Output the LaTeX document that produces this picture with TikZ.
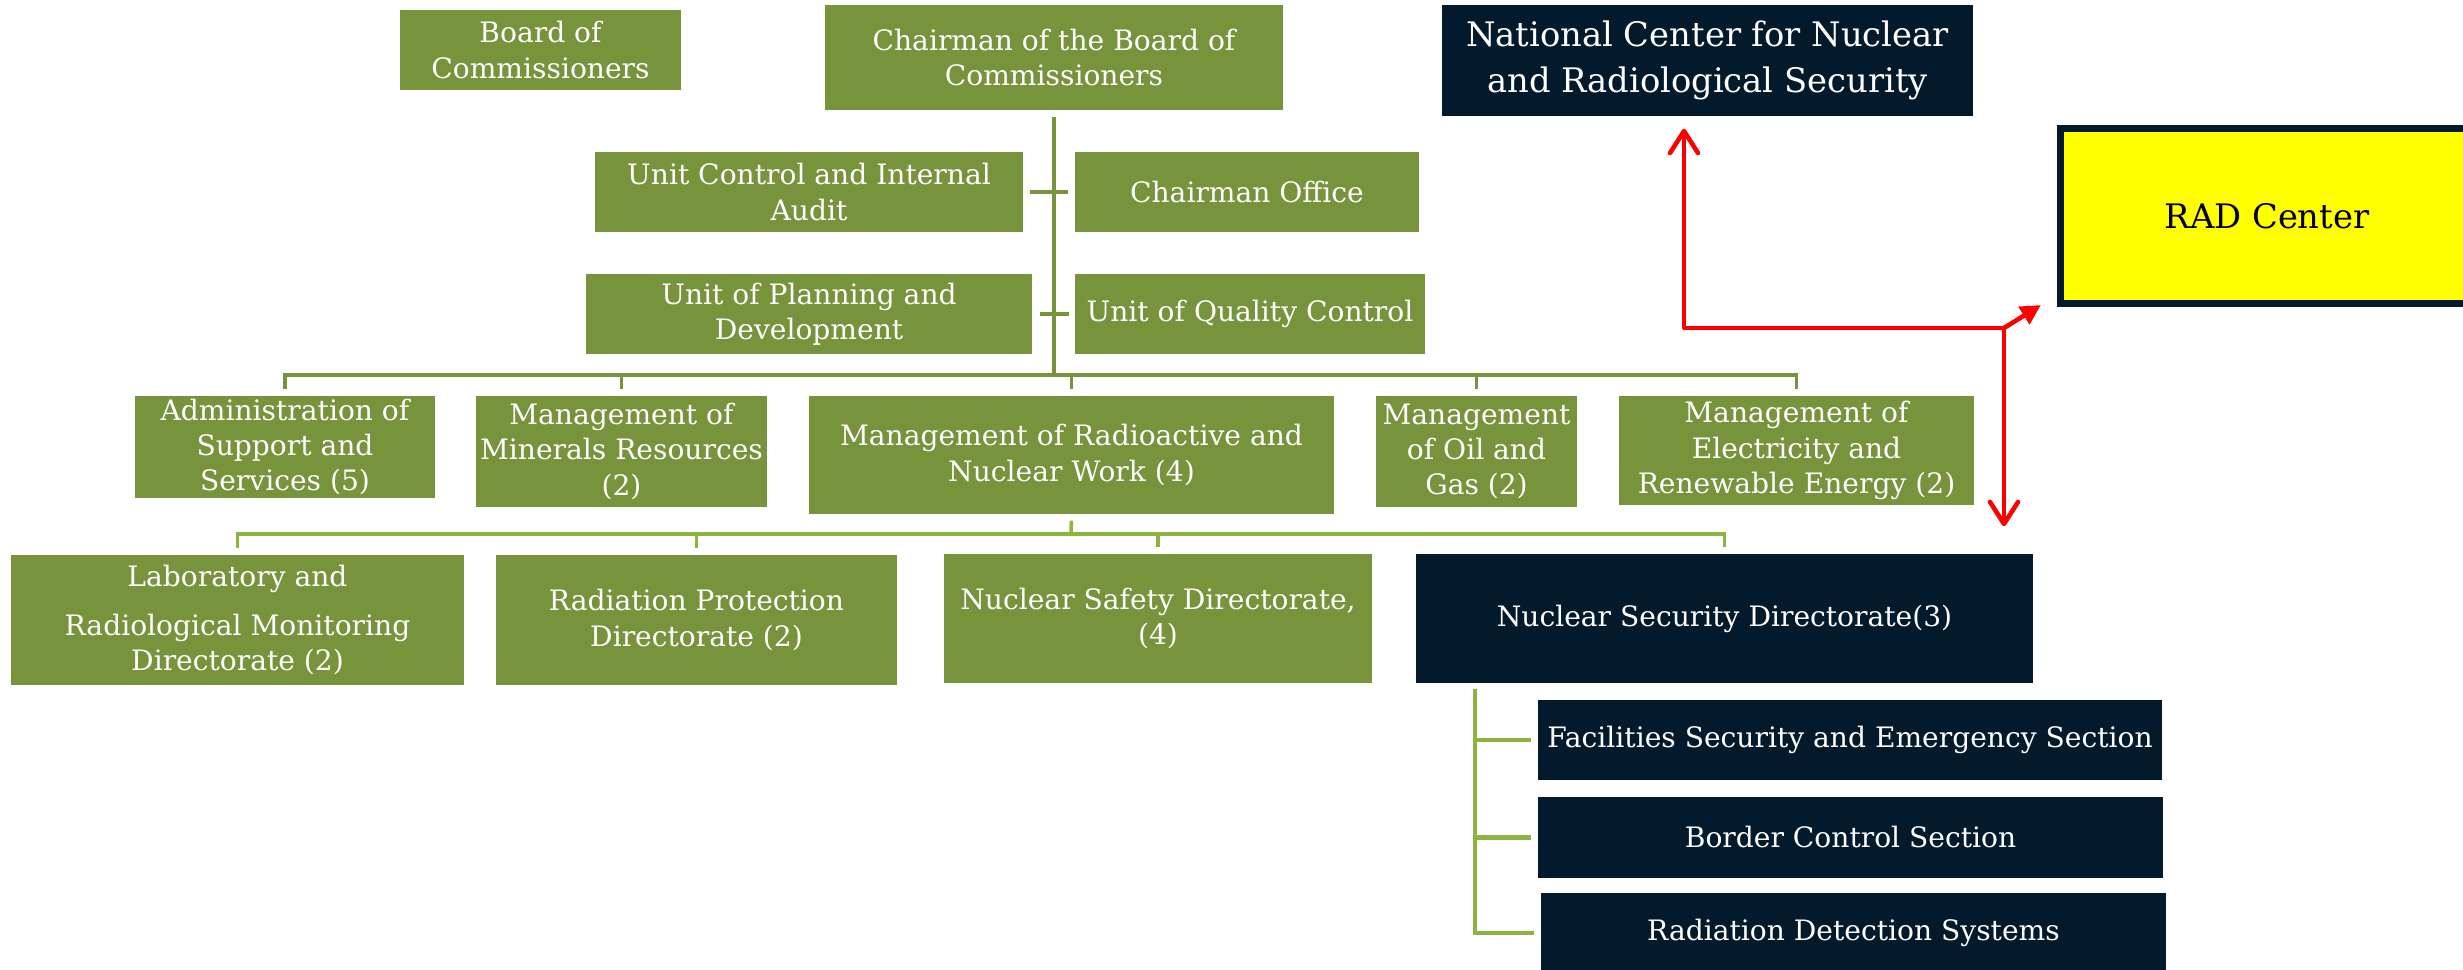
\documentclass[tikz,border=0pt]{standalone}
\usepackage{fontspec}
\setmainfont{DejaVu Serif}
\usetikzlibrary{arrows.meta}
\definecolor{boxgreen}{HTML}{77933C}
\definecolor{linegreen}{HTML}{8DB43F}
\definecolor{navy}{HTML}{021A2B}
\definecolor{radyellow}{HTML}{FFFF00}

\begin{document}
\begin{tikzpicture}[x = 0.01cm, y = -0.01cm]
	% Fix the page to the size of the chart
	\useasboundingbox (0, 0) rectangle (2463, 970);

	% Custom styles for the boxes and the connectors
	\tikzset{green box/.style = {fill = boxgreen, text = white, align = center, inner sep = 0pt, font = \fontsize{8}{10}\selectfont},
		navy box/.style = {green box, fill = navy},
		link/.style = {draw = boxgreen, line width = 1pt},
		light link/.style = {draw = linegreen, line width = 1pt},
		red arrows/.style = {draw = red, line width = 1.3pt, line cap = round, line join = round, -{Straight Barb[length = 0.22cm, width = 0.28cm, round]}}}

	% Define the coordinates where the connectors meet
	\coordinate (bus1) at (1054, 375);
	\coordinate (bus2) at (1071, 534);
	\coordinate (bus3) at (1475, 689);
	\coordinate (redjoin) at (2004, 328);
	\coordinate (redcorner) at (1684, 328);

	% Draw the top of the chart
	\node[green box, minimum width = 2.81cm, minimum height = 0.80cm] (board) at (540.5, 50) {Board of\\Commissioners};
	\node[green box, minimum width = 4.58cm, minimum height = 1.05cm] (chair) at (1054, 57.5) {Chairman of the Board of\\Commissioners};
	\node[green box, minimum width = 4.28cm, minimum height = 0.80cm] (audit) at (809, 192) {Unit Control and Internal\\Audit};
	\node[green box, minimum width = 3.44cm, minimum height = 0.80cm] (office) at (1247, 192) {Chairman Office};
	\node[green box, minimum width = 4.46cm, minimum height = 0.80cm] (planning) at (809, 314) {Unit of Planning and\\Development};
	\node[green box, minimum width = 3.50cm, minimum height = 0.80cm] (quality) at (1250, 314) {Unit of Quality Control};

	\node[navy box, font = \fontsize{9.6}{13}\selectfont, minimum width = 5.31cm, minimum height = 1.11cm] (national) at (1707.5, 60.5) {National Center for Nuclear\\and Radiological Security};
	\node[draw = navy, line width = 2pt, fill = radyellow, font = \fontsize{9.6}{12}\selectfont, minimum width = 4.13cm, minimum height = 1.75cm] (rad) at (2267, 216) {RAD Center};

	% Draw the managements
	\node[green box, minimum width = 3.00cm, minimum height = 1.02cm] (admin) at (285, 447) {Administration of\\Support and\\Services (5)};
	\node[green box, minimum width = 2.91cm, minimum height = 1.11cm] (minerals) at (621.5, 451.5) {Management of\\Minerals Resources\\(2)};
	\node[green box, minimum width = 5.25cm, minimum height = 1.18cm] (radwork) at (1071.5, 455) {Management of Radioactive and\\Nuclear Work (4)};
	\node[green box, minimum width = 2.01cm, minimum height = 1.11cm] (oilgas) at (1476.5, 451.5) {Management\\of Oil and\\Gas (2)};
	\node[green box, minimum width = 3.55cm, minimum height = 1.09cm] (electricity) at (1796.5, 450.5) {Management of\\Electricity and\\Renewable Energy (2)};

	% Draw the directorates
	\node[green box, minimum width = 4.53cm, minimum height = 1.30cm] (lab) at (237.5, 620) {Laboratory and\\[0.13cm]Radiological Monitoring\\Directorate (2)};
	\node[green box, minimum width = 4.01cm, minimum height = 1.30cm] (radprot) at (696.5, 620) {Radiation Protection\\Directorate (2)};
	\node[green box, minimum width = 4.28cm, minimum height = 1.29cm] (nsafety) at (1158, 618.5) {Nuclear Safety Directorate,\\(4)};
	\node[navy box, minimum width = 6.17cm, minimum height = 1.29cm] (nsecurity) at (1724.5, 618.5) {Nuclear Security Directorate(3)};

	% Draw the sections
	\node[navy box, minimum width = 6.24cm, minimum height = 0.80cm] (facilities) at (1850, 740) {Facilities Security and Emergency Section};
	\node[navy box, minimum width = 6.25cm, minimum height = 0.81cm] (border) at (1850.5, 837.5) {Border Control Section};
	\node[navy box, minimum width = 6.25cm, minimum height = 0.80cm] (detection) at (1853.5, 933) {Radiation Detection Systems};

	% Draw the green connectors
	\draw[link, shorten <= 0.06cm] (chair.south) -- (bus1);
	\draw[link, shorten <= 0.06cm, shorten >= 0.06cm] (audit.east) -- (office.west);
	\draw[link, shorten <= 0.07cm, shorten >= 0.05cm] (planning.east) -- (quality.west);
	\foreach \n in {admin, minerals, radwork, oilgas, electricity}
		\draw[link, shorten <= 0.06cm] (\n.north) |- (bus1);
	\draw[light link, shorten <= 0.06cm] (radwork.south) -- (bus2);
	\foreach \n in {lab, radprot, nsafety, nsecurity}
		\draw[light link, shorten <= 0.06cm] (\n.north) |- (bus2);
	\foreach \n in {facilities, border, detection}
		\draw[light link, line width = 1.2pt, shorten <= 0.06cm] (\n.west) -| (bus3);

	% Draw the red arrows
	\draw[red arrows, shorten >= 0.12cm] (redjoin) -- (redcorner) -- (redcorner |- national.south);
	\draw[red arrows, shorten >= 0.27cm] (redjoin) -- (redjoin |- nsecurity.north);
	\draw[red arrows, -{Triangle[length = 0.2cm, width = 0.2cm]}] (redjoin) -- ([shift = {(-16, -2)}]rad.south west);

\end{tikzpicture}
\end{document}
